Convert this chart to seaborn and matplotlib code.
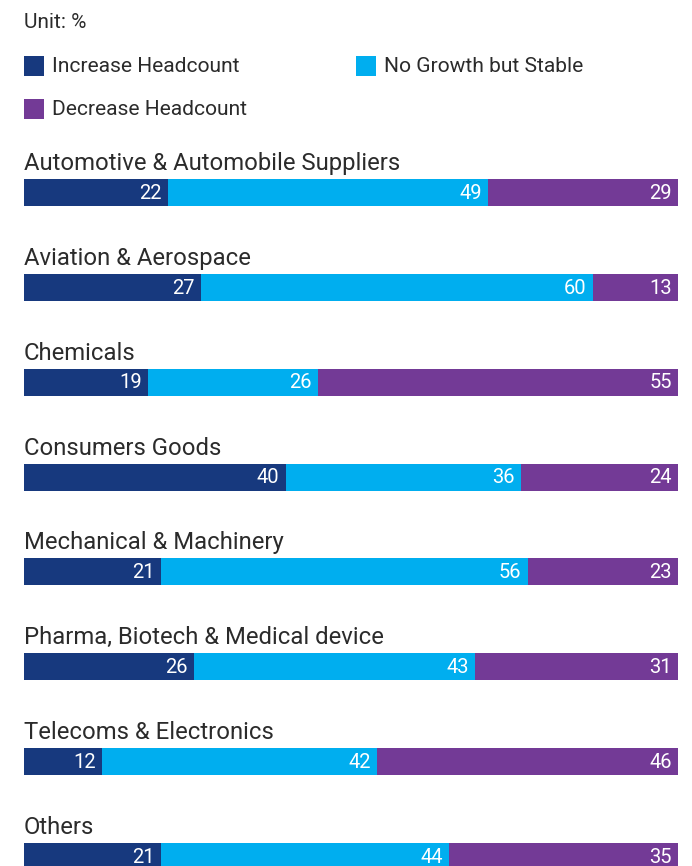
import matplotlib
matplotlib.use("Agg")
import matplotlib.pyplot as plt
from matplotlib.patches import Rectangle
import seaborn as sns
import pandas as pd

categories = [
    "Automotive & Automobile Suppliers",
    "Aviation & Aerospace",
    "Chemicals",
    "Consumers Goods",
    "Mechanical & Machinery",
    "Pharma, Biotech & Medical device",
    "Telecoms & Electronics",
    "Others",
]
increase = [22, 27, 19, 40, 21, 26, 12, 21]
stable = [49, 60, 26, 36, 56, 43, 42, 44]
decrease = [29, 13, 55, 24, 23, 31, 46, 35]
series_names = ["Increase Headcount", "No Growth but Stable", "Decrease Headcount"]
colors = ["#17397E", "#00AEEF", "#733A96"]
unit_label = "Unit: %"

sns.set_theme(style="white")
plt.rcParams["font.family"] = ["Roboto", "DejaVu Sans"]

W, H = 692, 866
fig = plt.figure(figsize=(W / 100, H / 100), dpi=100)
ax = fig.add_axes([24 / W, 0, (678 - 24) / W, 1])

df = pd.DataFrame({"category": categories, "inc": increase, "sta": stable, "dec": decrease})
df["end_inc"] = df["inc"]
df["end_sta"] = df["inc"] + df["sta"]
df["end_dec"] = df["inc"] + df["sta"] + df["dec"]

row_px = 94.86
bar_w = 27 / row_px

# stacked bars: draw cumulative totals from the longest to the shortest
for col, color in zip(["end_dec", "end_sta", "end_inc"], colors[::-1]):
    sns.barplot(data=df, x=col, y="category", order=categories, orient="h",
                color=color, saturation=1, width=bar_w, linewidth=0, ax=ax)

ax.set_xlim(0, 100)
ax.set_ylim(7.1, -192.5 / row_px)
ax.axis("off")

text_color = "#2b2b2b"
for i, cat in enumerate(categories):
    ax.text(0, i - bar_w / 2 - 9 / row_px, cat, ha="left", va="baseline",
            fontsize=17.2, color=text_color)
    row = df.iloc[i]
    for val, end in zip([row["inc"], row["sta"], row["dec"]],
                        [row["end_inc"], row["end_sta"], row["end_dec"]]):
        ax.annotate(f"{int(val)}", xy=(end, i), xytext=(-4.5, -0.5),
                    textcoords="offset points", ha="right", va="center",
                    fontsize=14.5, color="white")

# header and legend
fig.text(24 / W, 1 - 22 / H, unit_label, ha="left", va="center",
         fontsize=15, color=text_color)
legend_pos = [(24, 66), (356, 66), (24, 109)]
for (x, y), name, color in zip(legend_pos, series_names, colors):
    fig.patches.append(Rectangle((x / W, 1 - (y + 10) / H), 20 / W, 20 / H,
                                 transform=fig.transFigure, color=color,
                                 linewidth=0))
    fig.text((x + 28) / W, 1 - (y + 0.5) / H, name, ha="left", va="center",
             fontsize=15.1, color=text_color)

fig.savefig("out.png", dpi=100)
